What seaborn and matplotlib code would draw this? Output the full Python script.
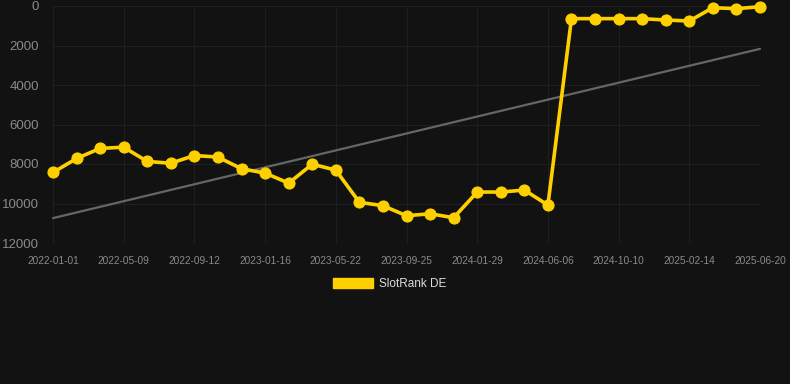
import numpy as np
import pandas as pd
import matplotlib
matplotlib.use("Agg")
import matplotlib.pyplot as plt
import seaborn as sns

# ---- data ----
tick_labels = ["2022-01-01", "2022-05-09", "2022-09-12", "2023-01-16", "2023-05-22",
               "2023-09-25", "2024-01-29", "2024-06-06", "2024-10-10", "2025-02-14",
               "2025-06-20"]
rank_values = [8430, 7720, 7210, 7150, 7870, 7960, 7570, 7650, 8240, 8460,
               8970, 8010, 8310, 9940, 10110, 10620, 10520, 10720, 9420, 9420,
               9320, 10080, 640, 640, 640, 640, 710, 760, 85, 135, 35]
trend_ends = [10740, 2170]
series_name = "SlotRank DE"

BG = "#121212"
YELLOW = "#FFD000"
GRID = "#1f1f1f"
TICK = "#8a8a8a"

sns.set_theme(style="dark")
plt.rcParams["font.family"] = ["Liberation Sans", "DejaVu Sans"]

fig = plt.figure(figsize=(7.9, 3.84), dpi=100, facecolor=BG)
ax = fig.add_axes([53 / 790, 1 - 243 / 384, (760 - 53) / 790, (243 - 6) / 384])
ax.set_facecolor(BG)

n = len(rank_values)
df = pd.DataFrame({"idx": np.arange(n), "rank": rank_values})
trend_df = pd.DataFrame({"idx": [0, n - 1], "rank": trend_ends})

sns.lineplot(data=trend_df, x="idx", y="rank", ax=ax, color="#666666", linewidth=1.6,
             legend=False)
sns.lineplot(data=df, x="idx", y="rank", ax=ax, color=YELLOW, linewidth=2.6,
             marker="o", markersize=8, markeredgecolor=YELLOW, legend=False,
             clip_on=False)
for l in ax.lines:
    l.set_clip_on(False)

ax.set_xlim(0, n - 1)
ax.set_ylim(12000, 0)
ax.set_yticks(np.arange(0, 12001, 2000))
ax.set_yticklabels([str(v) for v in range(0, 12001, 2000)])
ax.set_xticks(np.arange(0, n, 3))
ax.set_xticklabels(tick_labels)
ax.set_xlabel("")
ax.set_ylabel("")

ax.grid(True, color=GRID, linewidth=0.8)
ax.tick_params(axis="y", colors=TICK, labelsize=9.5, length=0, pad=10)
ax.tick_params(axis="x", colors=TICK, labelsize=7.3, length=0, pad=9)
for s in ax.spines.values():
    s.set_visible(False)
ax.set_axisbelow(True)

handle = plt.Rectangle((0, 0), 1, 1, facecolor=YELLOW, edgecolor=YELLOW)
leg = fig.legend([handle], [series_name], loc="center", bbox_to_anchor=(390 / 790, 1 - 284 / 384),
                 frameon=False, fontsize=8.5, handlelength=3.4, handleheight=1.0,
                 handletextpad=0.5, labelcolor="#dddddd")

fig.savefig("out.png", dpi=100, facecolor=BG)
